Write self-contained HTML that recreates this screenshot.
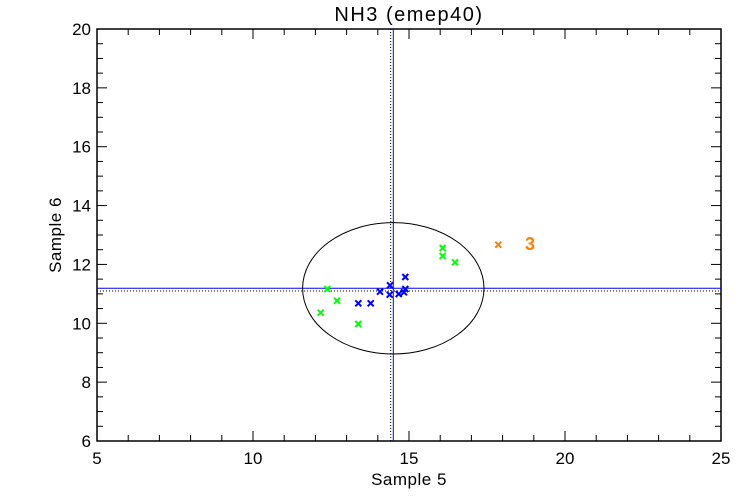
<!DOCTYPE html>
<html><head><style>body{margin:0;background:#fff}svg{display:block}text{font-family:"Liberation Sans",sans-serif;font-size:17px;fill:#000}</style></head>
<body>
<svg id="s" width="750" height="500" xmlns="http://www.w3.org/2000/svg"></svg>
<script>
const s=document.getElementById('s');
const L=97,R=721,T=29,B=441;
const X=v=>L+(v-5)*(R-L)/20, Y=v=>B-(v-6)*(B-T)/14;
let h='';
h+=`<rect x="${L}" y="${T}" width="${R-L}" height="${B-T}" fill="none" stroke="#000" stroke-width="1.5"/>`;
for(let v=5;v<=25;v++){const x=X(v);const l=(v%5==0)?10:6;
h+=`<line x1="${x}" y1="${B}" x2="${x}" y2="${B-l}" stroke="#000"/><line x1="${x}" y1="${T}" x2="${x}" y2="${T+l}" stroke="#000"/>`;
if(v%5==0)h+=`<text x="${x}" y="${B+23}" text-anchor="middle">${v}</text>`;}
for(let v=6;v<=20.001;v+=0.5){const y=Y(v);const l=(Math.abs(v%2)<0.01)?10:6;
h+=`<line x1="${L}" y1="${y}" x2="${L+l}" y2="${y}" stroke="#000"/><line x1="${R}" y1="${y}" x2="${R-l}" y2="${y}" stroke="#000"/>`;
if(Math.abs(v%2)<0.01)h+=`<text x="${L-6}" y="${y+6}" text-anchor="end">${v}</text>`;}
h+=`<text x="409" y="21" text-anchor="middle" style="font-size:20px;letter-spacing:1.5px">NH3 (emep40)</text>`;
h+=`<text x="409" y="485" text-anchor="middle" style="font-size:17px;letter-spacing:0.5px">Sample 5</text>`;
h+=`<text transform="translate(61,235) rotate(-90)" text-anchor="middle" style="letter-spacing:0.5px">Sample 6</text>`;
h+=`<line x1="390.7" y1="${T}" x2="390.7" y2="${B}" stroke="#000" stroke-dasharray="1,2"/>`;
h+=`<line x1="${L}" y1="291" x2="${R}" y2="291" stroke="#000" stroke-dasharray="1,2"/>`;
h+=`<line x1="393.3" y1="${T}" x2="393.3" y2="${B}" stroke="#0000ff"/>`;
h+=`<line x1="${L}" y1="288.3" x2="${R}" y2="288.3" stroke="#0000ff"/>`;
h+=`<ellipse cx="393.3" cy="288.3" rx="90.7" ry="65.7" fill="none" stroke="#000"/>`;
const cross=(x,y,c)=>`<path d="M${x-3} ${y-3}L${x+3} ${y+3}M${x-3} ${y+3}L${x+3} ${y-3}" stroke="${c}" stroke-width="2"/>`;
[[327.3,289],[337,300.7],[320.7,312.7],[358.3,324],[442.7,248],[442.7,256],[455,262.3]].forEach(p=>h+=cross(p[0],p[1],'#00ff00'));
[[358.3,303.3],[370.7,303.3],[380,291.7],[390,285.3],[389.7,294.7],[398.7,294],[404,292.3],[405.3,289],[405.3,277]].forEach(p=>h+=cross(p[0],p[1],'#0000ff'));
h+=cross(498.3,244.7,'#ff7f00');
h+=`<text x="530" y="250" text-anchor="middle" style="fill:#ff7f00;font-size:18px;font-weight:bold">3</text>`;
s.innerHTML=h;
</script>
</body></html>
